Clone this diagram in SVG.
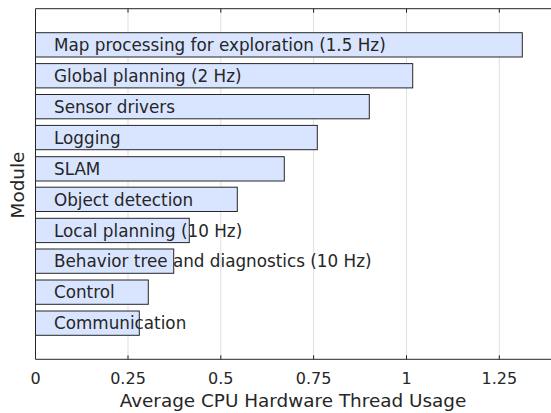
<svg xmlns="http://www.w3.org/2000/svg" width="551" height="413" viewBox="0 0 551 413">
<style>
text{font-family:"DejaVu Sans","Liberation Sans",sans-serif;fill:#262626;font-size:16.8px}
.grid{stroke:#dfdfdf;stroke-width:1}
.spine{stroke:#262626;stroke-width:1;fill:none}
.bar{fill:#d9e5ff;stroke:#262626;stroke-width:1}
.tl{text-anchor:middle;font-size:16px}
.ax{text-anchor:middle;font-size:18.4px}
</style>
<rect width="551" height="413" fill="#ffffff"/>
<g id="grid">
<line class="grid" x1="128" y1="9" x2="128" y2="359"/>
<line class="grid" x1="220.8" y1="9" x2="220.8" y2="359"/>
<line class="grid" x1="313.6" y1="9" x2="313.6" y2="359"/>
<line class="grid" x1="406.5" y1="9" x2="406.5" y2="359"/>
<line class="grid" x1="499.3" y1="9" x2="499.3" y2="359"/>
</g>
<g id="bars">
<g id="n-map"><rect class="bar" x="35.5" y="32.7" width="486.8" height="24.3"/><text x="54" y="51">Map processing for exploration (1.5 Hz)</text></g>
<g id="n-global"><rect class="bar" x="35.5" y="63.6" width="377.2" height="24.3"/><text x="54" y="81.9">Global planning (2 Hz)</text></g>
<g id="n-sensor"><rect class="bar" x="35.5" y="94.5" width="333.8" height="24.3"/><text x="54" y="112.8">Sensor drivers</text></g>
<g id="n-logging"><rect class="bar" x="35.5" y="125.4" width="281.8" height="24.3"/><text x="54" y="143.7">Logging</text></g>
<g id="n-slam"><rect class="bar" x="35.5" y="156.7" width="248.8" height="24.3"/><text x="54" y="174.8">SLAM</text></g>
<g id="n-object"><rect class="bar" x="35.5" y="187.2" width="201.8" height="24.3"/><text x="54" y="205.6">Object detection</text></g>
<g id="n-local"><rect class="bar" x="35.5" y="218.3" width="153.8" height="24.3"/><text x="54" y="236.5">Local planning (10 Hz)</text></g>
<g id="n-behavior"><rect class="bar" x="35.5" y="249" width="138.2" height="24.3"/><text x="54" y="267.4">Behavior tree and diagnostics (10 Hz)</text></g>
<g id="n-control"><rect class="bar" x="35.5" y="280" width="112.8" height="24.3"/><text x="54" y="298.3">Control</text></g>
<g id="n-comm"><rect class="bar" x="35.5" y="311" width="103.8" height="24.3"/><text x="54" y="329.3">Communication</text></g>
</g>
<g id="axes">
<path class="spine" d="M551 8.7 H35.5 V359.3 H551"/>
<path class="spine" d="M128 359.3 v-4 M220.8 359.3 v-4 M313.6 359.3 v-4 M406.5 359.3 v-4 M499.3 359.3 v-4 M128 8.7 v4 M220.8 8.7 v4 M313.6 8.7 v4 M406.5 8.7 v4 M499.3 8.7 v4"/>
<text class="tl" x="35.5" y="383.5">0</text>
<text class="tl" x="128" y="383.5">0.25</text>
<text class="tl" x="220.8" y="383.5">0.5</text>
<text class="tl" x="313.6" y="383.5">0.75</text>
<text class="tl" x="406.5" y="383.5">1</text>
<text class="tl" x="499.3" y="383.5">1.25</text>
<text class="ax" x="293" y="407">Average CPU Hardware Thread Usage</text>
<text class="ax" transform="translate(24,185) rotate(-90)">Module</text>
</g>
</svg>
